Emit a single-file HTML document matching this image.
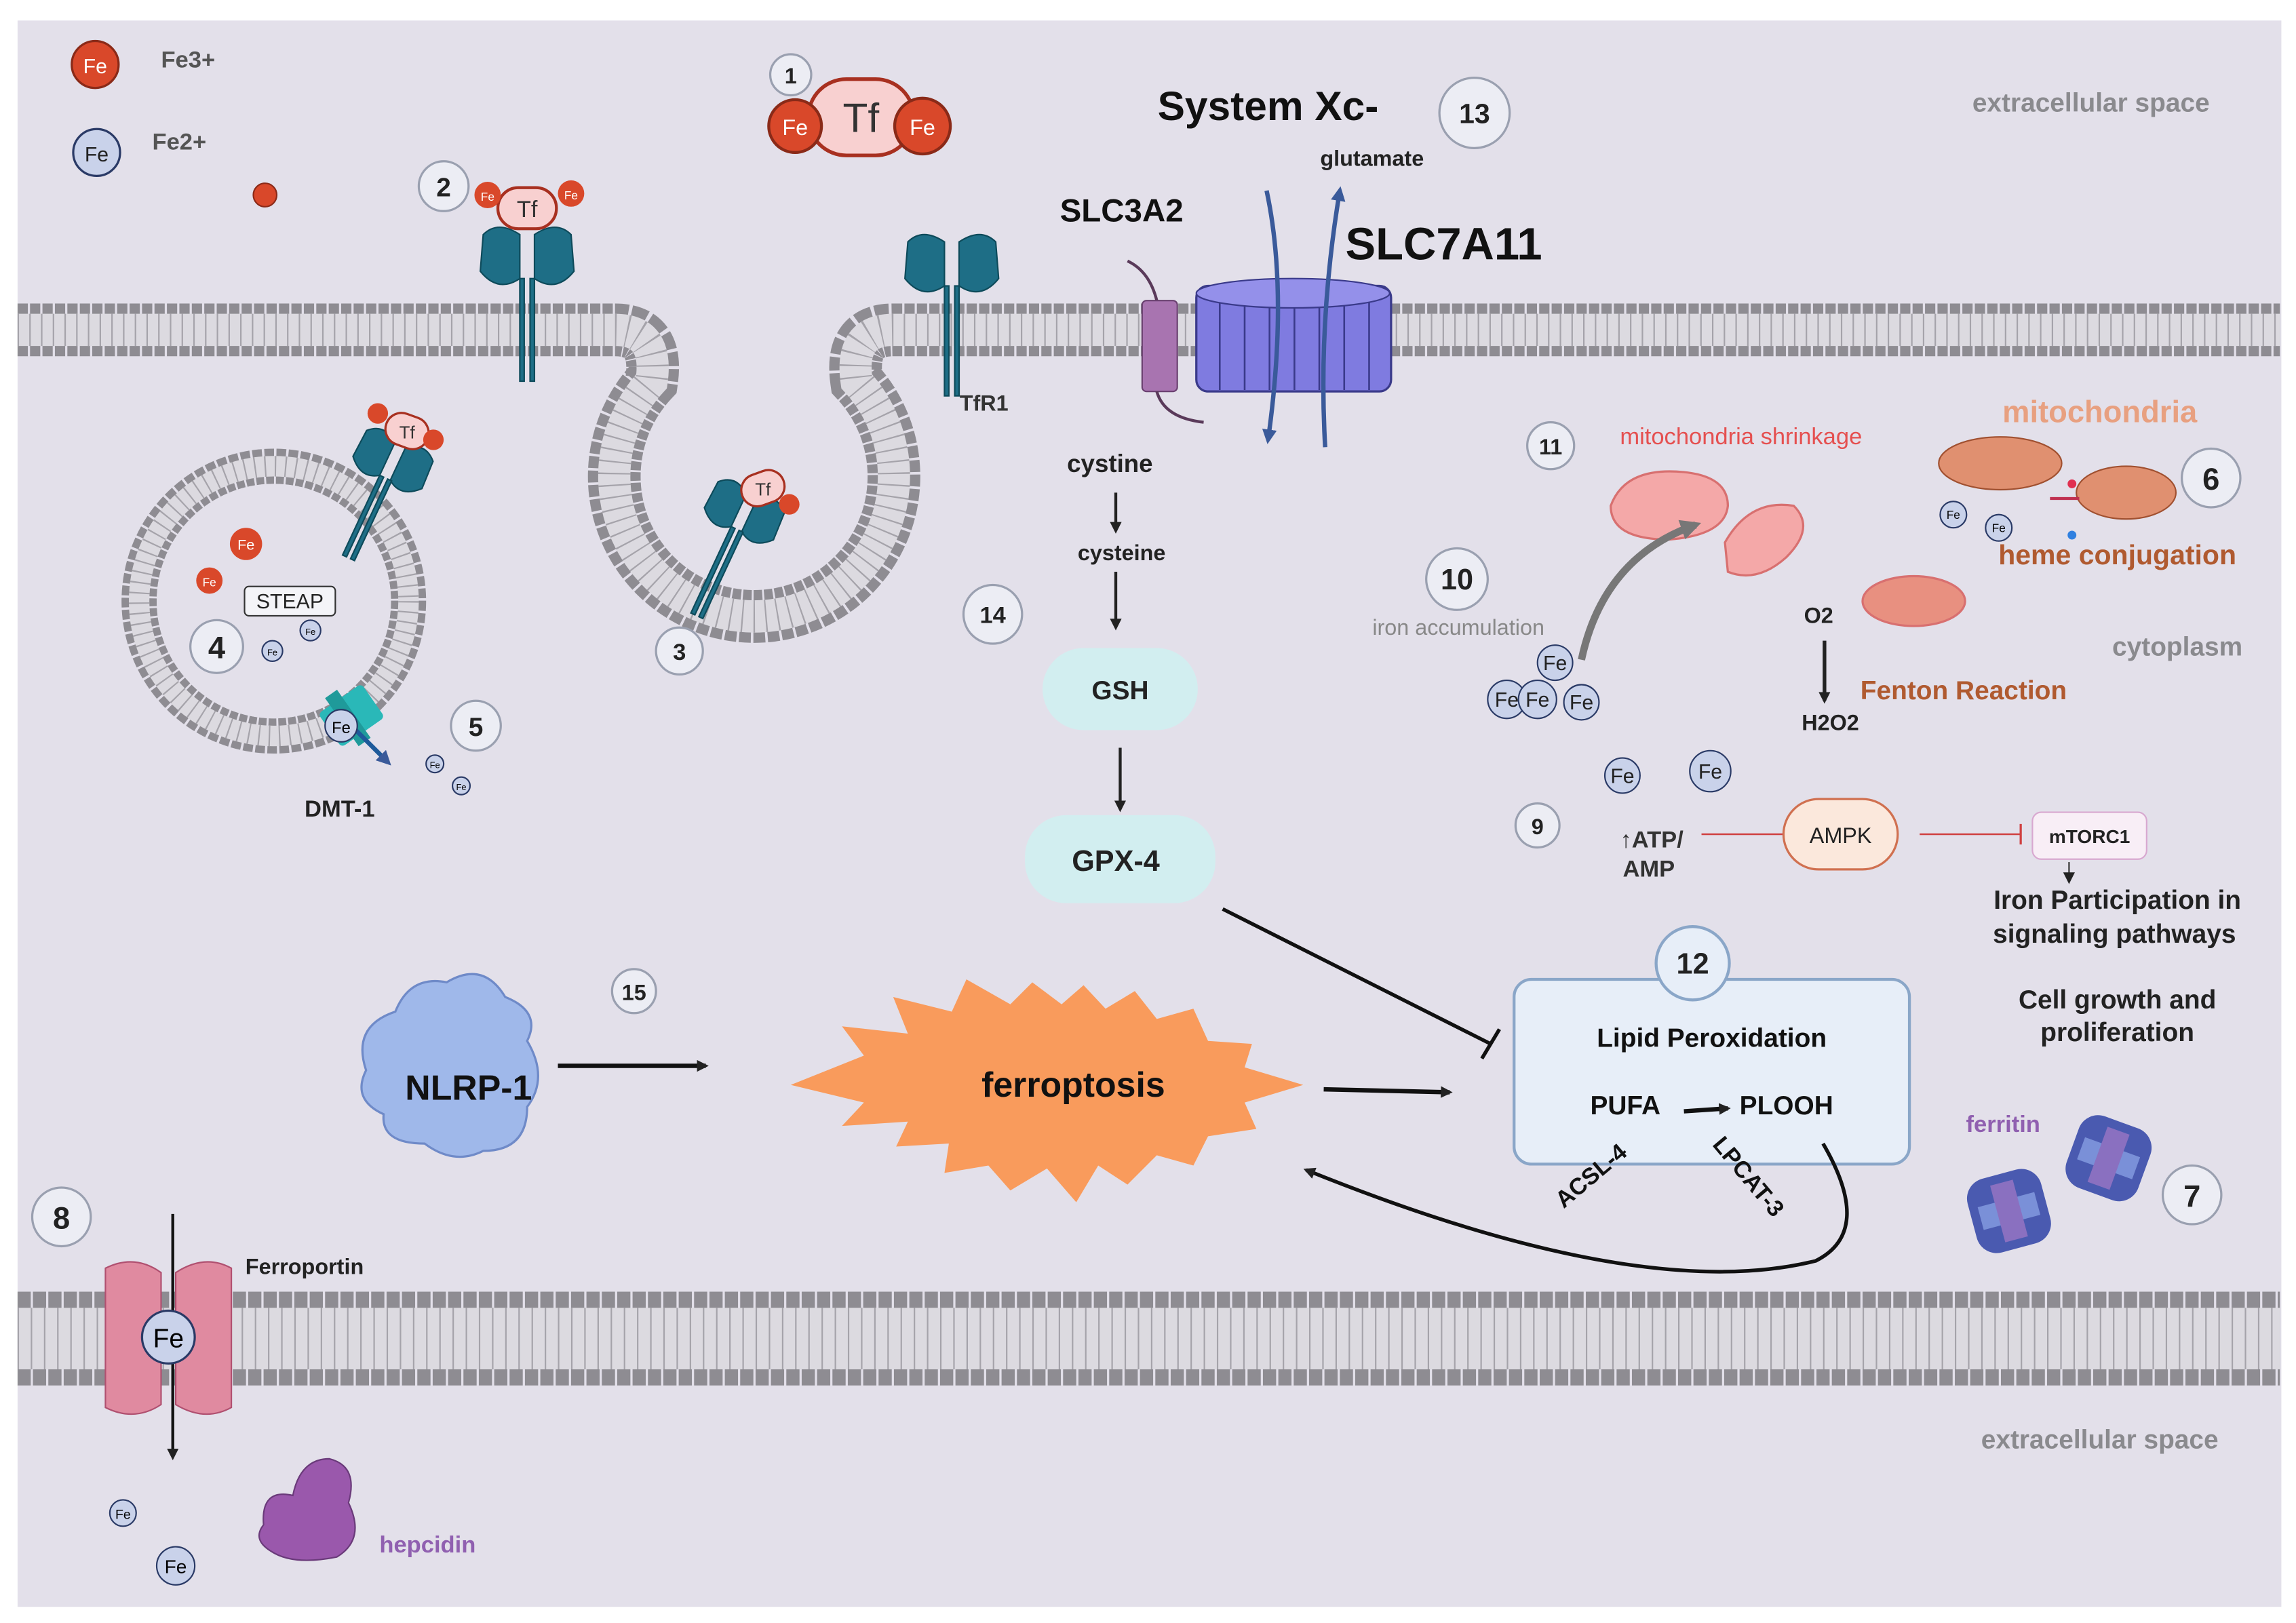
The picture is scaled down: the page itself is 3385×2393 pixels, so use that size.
<!DOCTYPE html>
<html><head><meta charset="utf-8"><style>
html,body{margin:0;padding:0;background:#fff}
svg{display:block}
text{font-family:"Liberation Sans",sans-serif}
</style></head><body>
<svg width="3385" height="2393" viewBox="0 0 1568 1107" preserveAspectRatio="none" xmlns="http://www.w3.org/2000/svg">
<defs>
<marker id="ah" markerWidth="8" markerHeight="8" refX="6" refY="4" orient="auto" markerUnits="userSpaceOnUse"><path d="M0,0 L8,4 L0,8 z" fill="#222"/></marker>
<marker id="ahb" markerWidth="10" markerHeight="10" refX="7" refY="5" orient="auto" markerUnits="userSpaceOnUse"><path d="M0,0 L10,5 L0,10 z" fill="#3a5a9a"/></marker>
<marker id="ahg" markerWidth="14" markerHeight="14" refX="10" refY="7" orient="auto" markerUnits="userSpaceOnUse"><path d="M0,0 L14,7 L0,14 z" fill="#777"/></marker>
</defs>
<rect x="0" y="0" width="1568" height="1107" fill="#fff"/>
<rect x="12" y="14" width="1546" height="1082" fill="#e3e0ea"/>

<!-- top membrane -->
<g fill="none">
<path id="tm" d="M12,225 H420 Q450,225 445,260 A95.5,95.5 0 1,0 585,260 Q580,225 610,225 H1557" stroke="#8e8c92" stroke-width="36" stroke-dasharray="7 1.5"/>
<path d="M12,225 H420 Q450,225 445,260 A95.5,95.5 0 1,0 585,260 Q580,225 610,225 H1557" stroke="#dcdae0" stroke-width="22"/>
<path d="M12,225 H420 Q450,225 445,260 A95.5,95.5 0 1,0 585,260 Q580,225 610,225 H1557" stroke="#a5a3aa" stroke-width="22" stroke-dasharray="1 7"/>
<!-- vesicle -->
<circle cx="187" cy="410" r="92" stroke="#8e8c92" stroke-width="24" stroke-dasharray="6 1.5"/>
<circle cx="187" cy="410" r="92" stroke="#dcdae0" stroke-width="14"/>
<circle cx="187" cy="410" r="92" stroke="#a5a3aa" stroke-width="14" stroke-dasharray="1 6"/>
<circle cx="187" cy="410" r="80" fill="#e3e0ea" stroke="none"/>
<!-- bottom membrane -->
<path d="M12,913 H1557" stroke="#8e8c92" stroke-width="64" stroke-dasharray="9 1.5"/>
<path d="M12,913 H1557" stroke="#dcdae0" stroke-width="42"/>
<path d="M12,913 H1557" stroke="#a5a3aa" stroke-width="42" stroke-dasharray="1 8"/>
</g>

<!-- labels -->
<text x="1428" y="76" font-size="18" font-weight="bold" fill="#8a8a8e" text-anchor="middle">extracellular space</text>
<text x="1487" y="447" font-size="18" font-weight="bold" fill="#8a8a8e" text-anchor="middle">cytoplasm</text>
<text x="1434" y="988" font-size="18" font-weight="bold" fill="#8a8a8e" text-anchor="middle">extracellular space</text>

<!-- legend -->
<circle cx="65" cy="44" r="16" fill="#d9482a" stroke="#8a2a18" stroke-width="1.5"/>
<text x="65" y="50" font-size="14" fill="#fff" text-anchor="middle">Fe</text>
<text x="110" y="46" font-size="16" font-weight="bold" fill="#555">Fe3+</text>
<circle cx="66" cy="104" r="16" fill="#c9d2ea" stroke="#2a3a66" stroke-width="1.5"/>
<text x="66" y="110" font-size="14" fill="#222" text-anchor="middle">Fe</text>
<text x="104" y="102" font-size="16" font-weight="bold" fill="#555">Fe2+</text>
<circle cx="181" cy="133" r="8" fill="#d9482a" stroke="#8a2a18"/>

<!-- Tf 1 -->
<rect x="552" y="54" width="72" height="52" rx="26" fill="#f8d0d0" stroke="#a83020" stroke-width="2.5"/>
<text x="588" y="90" font-size="28" fill="#333" text-anchor="middle">Tf</text>
<circle cx="543" cy="86" r="18" fill="#d9482a" stroke="#8a2a18" stroke-width="2"/><text x="543" y="92" font-size="15" fill="#fff" text-anchor="middle">Fe</text>
<circle cx="630" cy="86" r="19" fill="#d9482a" stroke="#8a2a18" stroke-width="2"/><text x="630" y="92" font-size="15" fill="#fff" text-anchor="middle">Fe</text>

<!-- TfR receptors -->
<g fill="#1e6e86" stroke="#0d4a5a" stroke-width="1">
<g transform="translate(360,175)">
<path d="M-30,-15 Q-20,-25 -5,-15 L-5,15 Q-20,25 -32,10 Z M30,-15 Q20,-25 5,-15 L5,15 Q20,25 32,10 Z"/>
<rect x="-5" y="15" width="3" height="70"/><rect x="2" y="15" width="3" height="70"/>
</g>
<g transform="translate(650,180)">
<path d="M-30,-15 Q-20,-25 -5,-15 L-5,15 Q-20,25 -32,10 Z M30,-15 Q20,-25 5,-15 L5,15 Q20,25 32,10 Z"/>
<rect x="-5" y="15" width="3" height="75"/><rect x="2" y="15" width="3" height="75"/>
</g>
<g transform="translate(268,315) rotate(25)">
<path d="M-25,-12 Q-15,-22 -4,-12 L-4,12 Q-15,20 -26,8 Z M25,-12 Q15,-22 4,-12 L4,12 Q15,20 26,8 Z"/>
<rect x="-4" y="12" width="3" height="60"/><rect x="2" y="12" width="3" height="60"/>
</g>
<g transform="translate(508,350) rotate(25)">
<path d="M-25,-12 Q-15,-22 -4,-12 L-4,12 Q-15,20 -26,8 Z M25,-12 Q15,-22 4,-12 L4,12 Q15,20 26,8 Z"/>
<rect x="-4" y="12" width="3" height="65"/><rect x="2" y="12" width="3" height="65"/>
</g>
</g>
<!-- small Tf on receptors -->
<rect x="340" y="128" width="40" height="28" rx="14" fill="#f8d0d0" stroke="#a83020" stroke-width="2"/><text x="360" y="148" font-size="16" fill="#333" text-anchor="middle">Tf</text>
<circle cx="333" cy="133" r="9" fill="#d9482a"/><text x="333" y="137" font-size="8" fill="#fff" text-anchor="middle">Fe</text>
<circle cx="390" cy="132" r="9" fill="#d9482a"/><text x="390" y="136" font-size="8" fill="#fff" text-anchor="middle">Fe</text>
<rect x="263" y="283" width="30" height="22" rx="11" fill="#f8d0d0" stroke="#a83020" stroke-width="1.5" transform="rotate(20 278 294)"/><text x="278" y="299" font-size="12" fill="#333" text-anchor="middle">Tf</text>
<circle cx="258" cy="282" r="7" fill="#d9482a"/><circle cx="296" cy="300" r="7" fill="#d9482a"/>
<rect x="506" y="322" width="30" height="22" rx="11" fill="#f8d0d0" stroke="#a83020" stroke-width="1.5" transform="rotate(-20 521 333)"/><text x="521" y="338" font-size="12" fill="#333" text-anchor="middle">Tf</text>
<circle cx="539" cy="344" r="7" fill="#d9482a"/>
<text x="672" y="280" font-size="15" font-weight="bold" fill="#333" text-anchor="middle" font-family="Liberation Serif">TfR1</text>

<!-- vesicle contents -->
<circle cx="168" cy="371" r="11" fill="#d9482a"/><text x="168" y="375" font-size="10" fill="#fff" text-anchor="middle">Fe</text>
<circle cx="143" cy="396" r="9" fill="#d9482a"/><text x="143" y="400" font-size="8" fill="#fff" text-anchor="middle">Fe</text>
<rect x="167" y="400" width="62" height="20" rx="3" fill="#f4f4f8" stroke="#333"/><text x="198" y="415" font-size="14" fill="#222" text-anchor="middle">STEAP</text>
<circle cx="212" cy="430" r="7" fill="#c9d2ea" stroke="#2a3a66"/><text x="212" y="433" font-size="6" text-anchor="middle">Fe</text>
<circle cx="186" cy="444" r="7" fill="#c9d2ea" stroke="#2a3a66"/><text x="186" y="447" font-size="6" text-anchor="middle">Fe</text>
<g transform="translate(240,488) rotate(-35)"><rect x="-18" y="-14" width="36" height="28" rx="3" fill="#2ab8b8"/><rect x="-8" y="-20" width="10" height="40" fill="#1f9a9a"/></g>
<line x1="240" y1="495" x2="265" y2="520" stroke="#1e5a9a" stroke-width="3" marker-end="url(#ahb)"/>
<circle cx="233" cy="495" r="11" fill="#c9d2ea" stroke="#2a3a66"/><text x="233" y="500" font-size="11" text-anchor="middle">Fe</text>
<circle cx="297" cy="521" r="6" fill="#c9d2ea" stroke="#2a3a66"/><text x="297" y="524" font-size="6" text-anchor="middle">Fe</text>
<circle cx="315" cy="536" r="6" fill="#c9d2ea" stroke="#2a3a66"/><text x="315" y="539" font-size="6" text-anchor="middle">Fe</text>
<text x="232" y="557" font-size="16" font-weight="bold" fill="#222" text-anchor="middle">DMT-1</text>

<!-- System Xc- -->
<text x="866" y="82" font-size="28" font-weight="bold" fill="#111" text-anchor="middle">System Xc-</text>
<text x="937" y="113" font-size="15" font-weight="bold" fill="#222" text-anchor="middle">glutamate</text>
<text x="766" y="151" font-size="22" font-weight="bold" fill="#111" text-anchor="middle">SLC3A2</text>
<text x="986" y="177" font-size="31" font-weight="bold" fill="#111" text-anchor="middle">SLC7A11</text>
<path d="M770,178 Q785,185 790,205" stroke="#5a3a5a" stroke-width="2" fill="none"/>
<rect x="780" y="205" width="24" height="62" rx="3" fill="#a874b0" stroke="#6a4070"/>
<path d="M790,267 Q795,285 822,288" stroke="#5a3a5a" stroke-width="2" fill="none"/>
<rect x="817" y="195" width="133" height="72" rx="8" fill="#7f7be0" stroke="#3a3a8a" stroke-width="1.5"/>
<g stroke="#3a3a8a" stroke-width="1.2"><line x1="833" y1="197" x2="833" y2="266"/><line x1="850" y1="197" x2="850" y2="266"/><line x1="867" y1="197" x2="867" y2="266"/><line x1="884" y1="197" x2="884" y2="266"/><line x1="901" y1="197" x2="901" y2="266"/><line x1="918" y1="197" x2="918" y2="266"/><line x1="935" y1="197" x2="935" y2="266"/></g>
<ellipse cx="883" cy="200" rx="66" ry="10" fill="#9490ea" stroke="#3a3a8a"/>
<path d="M865,130 Q880,200 866,300" stroke="#3a5a9a" stroke-width="3" fill="none" marker-end="url(#ahb)"/>
<path d="M905,305 Q900,220 915,130" stroke="#3a5a9a" stroke-width="3" fill="none" marker-end="url(#ahb)"/>

<!-- GSH pathway -->
<text x="758" y="322" font-size="17" font-weight="bold" fill="#222" text-anchor="middle">cystine</text>
<line x1="762" y1="336" x2="762" y2="362" stroke="#222" stroke-width="2" marker-end="url(#ah)"/>
<text x="766" y="382" font-size="15" font-weight="bold" fill="#222" text-anchor="middle">cysteine</text>
<line x1="762" y1="390" x2="762" y2="428" stroke="#222" stroke-width="2" marker-end="url(#ah)"/>
<rect x="712" y="442" width="106" height="56" rx="28" fill="#d2eef0"/>
<text x="765" y="477" font-size="18" font-weight="bold" fill="#222" text-anchor="middle">GSH</text>
<line x1="765" y1="510" x2="765" y2="552" stroke="#222" stroke-width="2" marker-end="url(#ah)"/>
<rect x="700" y="556" width="130" height="60" rx="28" fill="#d2eef0"/>
<text x="762" y="594" font-size="20" font-weight="bold" fill="#222" text-anchor="middle">GPX-4</text>
<line x1="835" y1="620" x2="1018" y2="712" stroke="#111" stroke-width="2.5"/>
<line x1="1012" y1="722" x2="1024" y2="702" stroke="#111" stroke-width="2.5"/>

<!-- lipid box -->
<rect x="1034" y="668" width="270" height="126" rx="12" fill="#e7eef8" stroke="#8aa6c8" stroke-width="2"/>
<text x="1169" y="714" font-size="18" font-weight="bold" fill="#111" text-anchor="middle">Lipid Peroxidation</text>
<text x="1110" y="760" font-size="18" font-weight="bold" fill="#111" text-anchor="middle">PUFA</text>
<text x="1220" y="760" font-size="18" font-weight="bold" fill="#111" text-anchor="middle">PLOOH</text>
<line x1="1150" y1="758" x2="1180" y2="756" stroke="#111" stroke-width="3" marker-end="url(#ah)"/>
<text x="1090" y="806" font-size="16" font-weight="bold" fill="#111" text-anchor="middle" transform="rotate(-40 1090 806)">ACSL-4</text>
<text x="1190" y="806" font-size="16" font-weight="bold" fill="#111" text-anchor="middle" transform="rotate(50 1190 806)">LPCAT-3</text>
<path d="M1245,780 Q1280,840 1240,860 Q1120,890 892,798" stroke="#111" stroke-width="2.5" fill="none" marker-end="url(#ah)"/>
<circle cx="1156" cy="657" r="25" fill="#e7eef8" stroke="#8aa6c8" stroke-width="2"/>
<text x="1156" y="664" font-size="20" font-weight="bold" fill="#222" text-anchor="middle">12</text>

<!-- ferroptosis -->
<polygon fill="#f99b5c" points="540,740 590,720 575,700 620,705 610,680 650,690 660,668 690,685 705,670 725,685 740,672 755,688 775,676 790,695 815,688 825,710 855,712 850,728 890,740 850,752 858,770 825,775 815,795 790,788 770,808 750,795 735,820 715,797 690,812 675,795 645,800 648,780 612,782 620,765 575,768 590,752"/>
<text x="733" y="748" font-size="24" font-weight="bold" fill="#111" text-anchor="middle">ferroptosis</text>
<line x1="904" y1="743" x2="990" y2="745" stroke="#111" stroke-width="3" marker-end="url(#ah)"/>

<!-- NLRP-1 -->
<path d="M250,730 Q240,700 270,690 Q280,665 305,670 Q330,655 345,680 Q370,690 360,710 Q375,735 360,755 Q360,785 330,785 Q310,795 290,780 Q260,780 262,760 Q240,750 250,730 Z" fill="#9fb8ea" stroke="#6f8ac8" stroke-width="1.5"/>
<text x="320" y="750" font-size="24" font-weight="bold" fill="#111" text-anchor="middle">NLRP-1</text>
<line x1="381" y1="727" x2="482" y2="727" stroke="#111" stroke-width="3" marker-end="url(#ah)"/>

<!-- right side -->
<text x="1189" y="303" font-size="16" fill="#e55050" text-anchor="middle">mitochondria shrinkage</text>
<g fill="#f4a8a8" stroke="#d87070" stroke-width="1.5">
<path d="M1100,345 Q1110,318 1150,322 Q1180,325 1180,345 Q1178,365 1140,368 Q1100,368 1100,345 Z"/>
<path d="M1178,370 Q1195,340 1225,345 Q1240,360 1220,380 Q1200,398 1180,390 Z"/>
<ellipse cx="1307" cy="410" rx="35" ry="17" fill="#e89080"/>
</g>
<path d="M1080,450 Q1095,380 1158,358" stroke="#777" stroke-width="5" fill="none" marker-end="url(#ahg)"/>
<text x="1434" y="288" font-size="21" font-weight="bold" fill="#e8a080" text-anchor="middle">mitochondria</text>
<ellipse cx="1366" cy="316" rx="42" ry="18" fill="#e09070" stroke="#a05030"/>
<ellipse cx="1452" cy="336" rx="34" ry="18" fill="#e09070" stroke="#a05030"/>
<line x1="1400" y1="340" x2="1420" y2="340" stroke="#c03050" stroke-width="2"/>
<circle cx="1415" cy="330" r="3" fill="#e03050"/><circle cx="1415" cy="365" r="3" fill="#3080e0"/>
<text x="1446" y="385" font-size="19" font-weight="bold" fill="#b05a30" text-anchor="middle">heme conjugation</text>
<circle cx="1334" cy="351" r="9" fill="#c9d2ea" stroke="#2a3a66"/><text x="1334" y="354" font-size="8" text-anchor="middle">Fe</text>
<circle cx="1365" cy="360" r="9" fill="#c9d2ea" stroke="#2a3a66"/><text x="1365" y="363" font-size="8" text-anchor="middle">Fe</text>
<text x="996" y="433" font-size="15" fill="#888" text-anchor="middle">iron accumulation</text>
<g font-size="14" text-anchor="middle" fill="#222">
<circle cx="1062" cy="452" r="12" fill="#c9d2ea" stroke="#2a3a66"/><text x="1062" y="457">Fe</text>
<circle cx="1029" cy="477" r="13" fill="#c9d2ea" stroke="#2a3a66"/><text x="1029" y="482">Fe</text>
<circle cx="1050" cy="477" r="13" fill="#c9d2ea" stroke="#2a3a66"/><text x="1050" y="482">Fe</text>
<circle cx="1080" cy="479" r="12" fill="#c9d2ea" stroke="#2a3a66"/><text x="1080" y="484">Fe</text>
<circle cx="1108" cy="529" r="12" fill="#c9d2ea" stroke="#2a3a66"/><text x="1108" y="534">Fe</text>
<circle cx="1168" cy="526" r="14" fill="#c9d2ea" stroke="#2a3a66"/><text x="1168" y="531">Fe</text>
</g>
<text x="1242" y="425" font-size="15" font-weight="bold" fill="#222" text-anchor="middle">O2</text>
<line x1="1246" y1="437" x2="1246" y2="478" stroke="#222" stroke-width="2.5" marker-end="url(#ah)"/>
<text x="1250" y="498" font-size="15" font-weight="bold" fill="#222" text-anchor="middle">H2O2</text>
<text x="1341" y="477" font-size="18" font-weight="bold" fill="#b05a30" text-anchor="middle">Fenton Reaction</text>

<text x="1128" y="578" font-size="16" font-weight="bold" fill="#333" text-anchor="middle">↑ATP/</text>
<text x="1126" y="598" font-size="16" font-weight="bold" fill="#333" text-anchor="middle">AMP</text>
<line x1="1162" y1="569" x2="1218" y2="569" stroke="#d04040" stroke-width="1.2"/>
<rect x="1218" y="545" width="78" height="48" rx="24" fill="#fbe8dc" stroke="#d07050" stroke-width="1.5"/>
<text x="1257" y="575" font-size="15" fill="#222" text-anchor="middle">AMPK</text>
<line x1="1311" y1="569" x2="1380" y2="569" stroke="#d04040" stroke-width="1.2"/>
<line x1="1380" y1="562" x2="1380" y2="576" stroke="#d04040" stroke-width="1.5"/>
<rect x="1388" y="554" width="78" height="32" rx="6" fill="#f8eef6" stroke="#d8a8d0"/>
<text x="1427" y="575" font-size="13" font-weight="bold" fill="#222" text-anchor="middle">mTORC1</text>
<line x1="1413" y1="588" x2="1413" y2="601" stroke="#333" stroke-width="1" marker-end="url(#ah)"/>
<text x="1446" y="620" font-size="18" font-weight="bold" fill="#222" text-anchor="middle">Iron Participation in</text>
<text x="1444" y="643" font-size="18" font-weight="bold" fill="#222" text-anchor="middle">signaling pathways</text>
<text x="1446" y="688" font-size="18" font-weight="bold" fill="#222" text-anchor="middle">Cell growth and</text>
<text x="1446" y="710" font-size="18" font-weight="bold" fill="#222" text-anchor="middle">proliferation</text>

<!-- ferritin -->
<text x="1368" y="772" font-size="16" font-weight="bold" fill="#9060b0" text-anchor="middle">ferritin</text>
<g transform="translate(1440,790) rotate(20)"><rect x="-26" y="-26" width="52" height="52" rx="14" fill="#4a5ab0"/><rect x="-20" y="-8" width="40" height="16" fill="#7a90d8"/><rect x="-8" y="-20" width="16" height="40" fill="#8a70c0"/></g>
<g transform="translate(1372,826) rotate(-15)"><rect x="-26" y="-26" width="52" height="52" rx="14" fill="#4a5ab0"/><rect x="-20" y="-8" width="40" height="16" fill="#7a90d8"/><rect x="-8" y="-20" width="16" height="40" fill="#8a70c0"/></g>

<!-- ferroportin -->
<path d="M72,865 Q92,855 110,868 L110,958 Q92,970 72,960 Z" fill="#e08aa0" stroke="#b05070"/>
<path d="M120,868 Q140,855 158,865 L158,960 Q140,970 120,958 Z" fill="#e08aa0" stroke="#b05070"/>
<line x1="118" y1="828" x2="118" y2="994" stroke="#111" stroke-width="2" marker-end="url(#ah)"/>
<circle cx="115" cy="912" r="18" fill="#c9d2ea" stroke="#2a3a66" stroke-width="1.5"/><text x="115" y="919" font-size="18" text-anchor="middle">Fe</text>
<text x="208" y="869" font-size="15" font-weight="bold" fill="#222" text-anchor="middle">Ferroportin</text>
<circle cx="84" cy="1032" r="9" fill="#c9d2ea" stroke="#2a3a66"/><text x="84" y="1036" font-size="9" text-anchor="middle">Fe</text>
<circle cx="120" cy="1068" r="13" fill="#c9d2ea" stroke="#2a3a66"/><text x="120" y="1073" font-size="13" text-anchor="middle">Fe</text>
<path d="M180,1040 Q178,1015 200,1020 Q205,995 225,995 Q245,1000 238,1025 Q250,1050 230,1062 Q200,1068 185,1058 Q172,1050 180,1040 Z" fill="#9a58ac" stroke="#6a3a7a"/>
<text x="292" y="1059" font-size="16" font-weight="bold" fill="#9060b0" text-anchor="middle">hepcidin</text>

<!-- number circles -->
<g fill="#ecedf4" stroke="#9aa0b0" stroke-width="1.5">
<circle cx="540" cy="51" r="14"/><circle cx="303" cy="127" r="17"/><circle cx="464" cy="444" r="16"/>
<circle cx="148" cy="441" r="18"/><circle cx="325" cy="495" r="17"/><circle cx="1510" cy="326" r="20"/>
<circle cx="1497" cy="815" r="20"/><circle cx="42" cy="830" r="20"/><circle cx="1050" cy="563" r="15"/>
<circle cx="995" cy="395" r="21"/><circle cx="1059" cy="304" r="16"/><circle cx="1007" cy="77" r="24"/>
<circle cx="678" cy="419" r="20"/><circle cx="433" cy="676" r="15"/>
</g>
<g font-weight="bold" fill="#222" text-anchor="middle">
<text x="540" y="57" font-size="15">1</text><text x="303" y="134" font-size="18">2</text><text x="464" y="450" font-size="16">3</text>
<text x="148" y="449" font-size="21">4</text><text x="325" y="502" font-size="18">5</text><text x="1510" y="334" font-size="21">6</text>
<text x="1497" y="823" font-size="21">7</text><text x="42" y="838" font-size="21">8</text><text x="1050" y="569" font-size="15">9</text>
<text x="995" y="402" font-size="20">10</text><text x="1059" y="310" font-size="15">11</text><text x="1007" y="84" font-size="19">13</text>
<text x="678" y="425" font-size="16">14</text><text x="433" y="682" font-size="15">15</text>
</g>
</svg>
</body></html>
